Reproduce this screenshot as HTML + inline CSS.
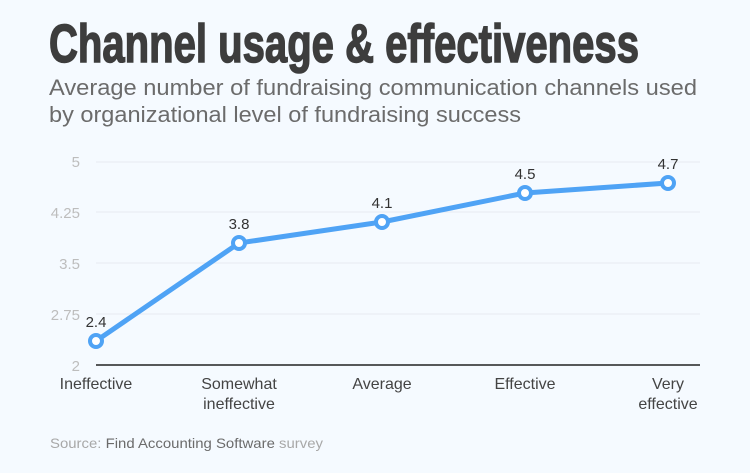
<!DOCTYPE html>
<html><head><meta charset="utf-8"><style>
html,body{margin:0;padding:0;background:#f5faff;}
svg{display:block;}
</style></head><body>
<svg width="750" height="473" viewBox="0 0 750 473" xmlns="http://www.w3.org/2000/svg" font-family="Liberation Sans, sans-serif">
<rect width="750" height="473" fill="#f5faff"/>
<text x="49" y="62" font-size="54" font-weight="bold" fill="#3d3d3d" stroke="#3d3d3d" stroke-width="1.5" textLength="590" lengthAdjust="spacingAndGlyphs">Channel usage &amp; effectiveness</text>
<text x="49" y="95" font-size="22" fill="#6b6b6b" textLength="648" lengthAdjust="spacingAndGlyphs">Average number of fundraising communication channels used</text>
<text x="49" y="122" font-size="22" fill="#6b6b6b" textLength="472" lengthAdjust="spacingAndGlyphs">by organizational level of fundraising success</text>
<g stroke="#e6ebf0" stroke-width="1">
<line x1="96" y1="162" x2="700" y2="162"/>
<line x1="96" y1="212" x2="700" y2="212"/>
<line x1="96" y1="263" x2="700" y2="263"/>
<line x1="96" y1="314" x2="700" y2="314"/>
</g>
<line x1="96" y1="365" x2="700" y2="365" stroke="#222" stroke-width="1.5"/>
<g font-size="15" fill="#bdbdbd" text-anchor="end">
<text x="80" y="167">5</text>
<text x="80" y="218">4.25</text>
<text x="80" y="269">3.5</text>
<text x="80" y="320">2.75</text>
<text x="80" y="371">2</text>
</g>
<polyline points="96,341 239,243 382,222 525,193 668,183" fill="none" stroke="#4fa3f5" stroke-width="5" stroke-linejoin="round"/>
<g fill="#fff" stroke="#4fa3f5" stroke-width="4">
<circle cx="96" cy="341" r="6"/>
<circle cx="239" cy="243" r="6"/>
<circle cx="382" cy="222" r="6"/>
<circle cx="525" cy="193" r="6"/>
<circle cx="668" cy="183" r="6"/>
</g>
<g font-size="15" fill="#333" text-anchor="middle">
<text x="96" y="327">2.4</text>
<text x="239" y="229">3.8</text>
<text x="382" y="208">4.1</text>
<text x="525" y="179">4.5</text>
<text x="668" y="169">4.7</text>
</g>
<g font-size="16" fill="#444" text-anchor="middle">
<text x="96" y="389">Ineffective</text>
<text x="239" y="389">Somewhat</text>
<text x="239" y="409">ineffective</text>
<text x="382" y="389">Average</text>
<text x="525" y="389">Effective</text>
<text x="668" y="389">Very</text>
<text x="668" y="409">effective</text>
</g>
<text x="50" y="448" font-size="14" fill="#a8a8a8" textLength="273" lengthAdjust="spacingAndGlyphs">Source: <tspan fill="#6b6b6b">Find Accounting Software</tspan> survey</text>
</svg>
</body></html>
